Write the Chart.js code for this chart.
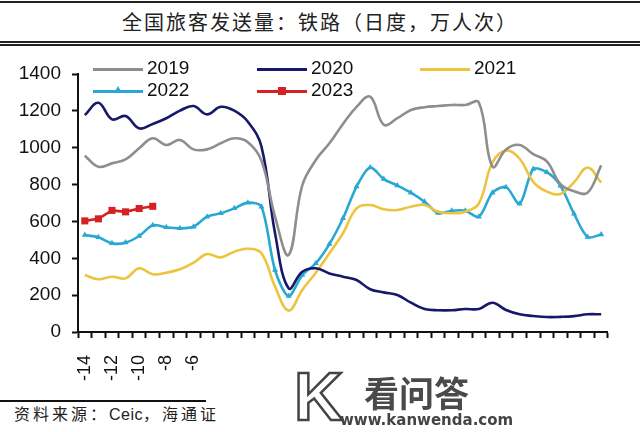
<!DOCTYPE html>
<html>
<head>
<meta charset="utf-8">
<script src="https://cdn.jsdelivr.net/npm/chart.js@4"></script>
<style>
  html, body { margin: 0; padding: 0; background: #fff; }
  #page { position: relative; width: 640px; height: 432px; overflow: hidden; background: #fff; }
  #title {
    position: absolute; left: 0; top: 1px; width: 640px; height: 38px;
    border-top: 2px solid #222; border-bottom: 5px double #222;
    text-align: center; font: 20px "Noto Sans CJK SC", sans-serif; letter-spacing: 2px;
    line-height: 38px; color: #222;
  }
  #wrap { position: absolute; left: 0; top: 48px; width: 640px; height: 340px; }
  #legend { position: absolute; left: 0; top: 0; width: 640px; height: 100px; pointer-events: none; }
  .lg { position: absolute; height: 22px; font: 19px "Liberation Sans", Arial, sans-serif; color: #111; }
  .lg .ln { position: absolute; left: 0; top: 10px; width: 50px; height: 0; border-top: 3px solid; }
  .lg .mk { position: absolute; }
  .lg .tx { position: absolute; left: 54px; top: -1px; line-height: 22px; }
  #srcline { position: absolute; left: 0; top: 400px; width: 206px; border-top: 2px solid #111; }
  #src {
    position: absolute; left: 14px; top: 403px; width: 202px; height: 24px; overflow: hidden; white-space: nowrap;
    font: 16px "Liberation Sans", "Noto Sans CJK SC", sans-serif; letter-spacing: 3px; color: #222; line-height: 24px;
  }
  #src .lat { letter-spacing: 0.5px; }
  #wm-k {
    position: absolute; left: 294px; top: 362px; font: bold 68px "Liberation Sans", Arial, sans-serif;
    color: #fff; -webkit-text-stroke: 2.5px #444; line-height: 68px;
  }
  #wm-cn { position: absolute; left: 364px; top: 372px; font: bold 35px "Noto Sans CJK SC", sans-serif; color: #4a4a4a; line-height: 40px; }
  #wm-url { position: absolute; left: 340px; top: 411px; font: bold 15px "DejaVu Sans", sans-serif; color: #444; line-height: 18px; }
</style>
</head>
<body>
<div id="page">
  <div id="title">全国旅客发送量：铁路（日度，万人次）</div>
  <div id="wrap"><canvas id="c" width="640" height="340"></canvas></div>
  <div id="legend"></div>
  <div id="srcline"></div>
  <div id="src">资料来源：<span class="lat">Ceic</span>，海通证券研究所</div>
  <div id="wm-k">K</div>
  <div id="wm-cn">看问答</div>
  <div id="wm-url">www.kanwenda.com</div>
</div>
<script>
// days relative to Spring Festival
const days = [-14, -13, -12, -11, -10, -9, -8, -7, -6, -5, -4, -3, -2, -1, 0, 1, 2, 3, 4, 5,
  6, 7, 8, 9, 10, 11, 12, 13, 14, 15, 16, 17, 18, 19, 20, 21, 22, 23, 24];
const tickLabels = ['-14', '', '-12', '', '-10', '', '-8', '', '-6'];

const y2019 = [957, 897, 915, 937, 997, 1051, 1015, 1042, 991, 991, 1024, 1051, 1030, 930, 626, 418, 795, 933, 1024, 1129,
  1222, 1277, 1125, 1160, 1205, 1220, 1226, 1232, 1232, 1245, 897, 990, 1015, 965, 926, 803, 764, 756, 904];
const y2020 = [1177, 1244, 1154, 1172, 1105, 1129, 1160, 1201, 1226, 1181, 1222, 1201, 1141, 1006, 536, 237, 327, 346, 318, 300,
  282, 232, 215, 201, 159, 125, 118, 118, 125, 125, 159, 119, 96, 87, 81, 82, 86, 96, 96];
const y2021 = [309, 286, 300, 291, 346, 313, 322, 340, 376, 423, 405, 436, 452, 427, 246, 116, 228, 322, 427, 536,
  671, 689, 666, 662, 680, 689, 653, 644, 653, 698, 920, 985, 940, 815, 762, 749, 812, 893, 810];
const y2022 = [526, 514, 481, 485, 521, 579, 568, 563, 571, 626, 644, 671, 702, 680, 336, 195, 309, 373, 477, 617,
  789, 893, 830, 795, 756, 707, 646, 658, 658, 626, 756, 786, 696, 884, 867, 794, 642, 516, 529];
const y2023 = [603, 614, 660, 652, 670, 682];

const yTicks = [0, 200, 400, 600, 800, 1000, 1200, 1400];

const COLORS = {
  y2019: '#8e8e8e',
  y2020: '#18186a',
  y2021: '#ecc43e',
  y2022: '#2aa8d4',
  y2023: '#d42222',
  axis: '#111',
  text: '#111',
};

const FONT = '"Liberation Sans", Arial, sans-serif';

const datasets = [
  { label: '2019', data: y2019, borderColor: COLORS.y2019, backgroundColor: COLORS.y2019, tension: 0.4, pointRadius: 0 },
  { label: '2020', data: y2020, borderColor: COLORS.y2020, backgroundColor: COLORS.y2020, tension: 0.4, pointRadius: 0 },
  { label: '2021', data: y2021, borderColor: COLORS.y2021, backgroundColor: COLORS.y2021, tension: 0.4, pointRadius: 0 },
  { label: '2022', data: y2022, borderColor: COLORS.y2022, backgroundColor: COLORS.y2022, tension: 0.3,
    pointStyle: 'triangle', pointRadius: 3.5 },
  { label: '2023', data: y2023, borderColor: COLORS.y2023, backgroundColor: COLORS.y2023, tension: 0,
    pointStyle: 'rect', pointRadius: 5 },
];
datasets.forEach((d) => { d.borderWidth = 2.6; d.fill = false; d.pointBorderWidth = 0; });

// legend slots: [row, col], positions in page pixels
const legendPos = { '2019': [0, 0], '2020': [0, 1], '2021': [0, 2], '2022': [1, 0], '2023': [1, 1] };
const legendX = [93, 257, 420];
const legendY = [58, 80];

function buildLegend() {
  const el = document.getElementById('legend');
  datasets.forEach((d) => {
    const [r, col] = legendPos[d.label];
    const item = document.createElement('div');
    item.className = 'lg';
    item.style.left = legendX[col] + 'px';
    item.style.top = legendY[r] + 'px';
    const ln = document.createElement('div');
    ln.className = 'ln';
    ln.style.borderTopColor = d.borderColor;
    item.appendChild(ln);
    if (d.pointStyle === 'triangle') {
      const mk = document.createElement('div');
      mk.className = 'mk';
      Object.assign(mk.style, { left: '21px', top: '6px', width: '8px', height: '7px',
        background: d.borderColor, clipPath: 'polygon(50% 0, 100% 100%, 0 100%)' });
      item.appendChild(mk);
    } else if (d.pointStyle === 'rect') {
      const mk = document.createElement('div');
      mk.className = 'mk';
      Object.assign(mk.style, { left: '21px', top: '7px', width: '8px', height: '8px', background: d.borderColor });
      item.appendChild(mk);
    }
    const tx = document.createElement('div');
    tx.className = 'tx';
    tx.textContent = d.label;
    item.appendChild(tx);
    el.appendChild(item);
  });
}

new Chart(document.getElementById('c'), {
  type: 'line',
  data: { labels: days, datasets },
  options: {
    responsive: false,
    animation: false,
    layout: { padding: { left: 0, right: 17, top: 26, bottom: 0 } },
    plugins: { legend: { display: false }, tooltip: { enabled: false } },
    scales: {
      x: {
        type: 'category',
        offset: true,
        grid: { display: true, drawOnChartArea: false, drawTicks: true, tickLength: 6, tickWidth: 2, tickColor: COLORS.axis, offset: true },
        border: { display: true, color: COLORS.axis, width: 2 },
        ticks: {
          autoSkip: false, minRotation: 90, maxRotation: 90, padding: 17,
          color: COLORS.text, font: { family: FONT, size: 18 },
          callback: (v, i) => tickLabels[i] || '',
        },
        afterFit: (s) => { s.height = 56; },
      },
      y: {
        min: 0, max: 1400,
        afterBuildTicks: (s) => { s.ticks = yTicks.map((v) => ({ value: v })); },
        grid: { display: true, drawOnChartArea: false, drawTicks: true, tickLength: 6, tickWidth: 2, tickColor: COLORS.axis },
        border: { display: true, color: COLORS.axis, width: 2 },
        ticks: { padding: 11, color: COLORS.text, font: { family: FONT, size: 19 }, callback: (v) => String(v) },
        afterFit: (s) => { s.width = 78; },
      },
    },
  },
});

buildLegend();
</script>
</body>
</html>
